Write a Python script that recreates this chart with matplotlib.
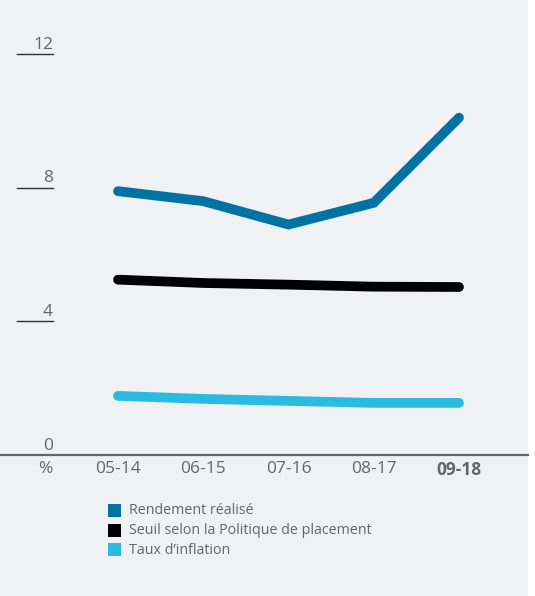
import matplotlib
matplotlib.use("Agg")
import matplotlib.pyplot as plt
from matplotlib.patches import Rectangle

periods = ["05-14", "06-15", "07-16", "08-17", "09-18"]
rendement = [7.9, 7.6, 6.9, 7.55, 10.1]
seuil = [5.25, 5.15, 5.1, 5.04, 5.03]
inflation = [1.77, 1.68, 1.62, 1.56, 1.56]
yticks = [0, 4, 8, 12]
series_labels = ["Rendement réalisé", "Seuil selon la Politique de placement", "Taux d\u2019inflation"]
series_colors = ["#0073a3", "#000000", "#2abbe3"]

W, H = 535, 596
bg = "#f0f1f3"
txt = "#666666"
plt.rcParams['font.family'] = ['Open Sans', 'DejaVu Sans']

fig = plt.figure(figsize=(W/100, H/100), dpi=100)
fig.patch.set_facecolor("white")
fig.add_artist(Rectangle((0, 0), 528/W, 1, transform=fig.transFigure, facecolor=bg, edgecolor="none", zorder=-10))

ax = fig.add_axes([0, (H-455)/H, 528/W, 455/H])
ax.set_facecolor("none")
xs = list(range(len(periods)))
for vals, c in zip([rendement, seuil, inflation], series_colors):
    ax.plot(xs, vals, color=c, lw=7, solid_capstyle="round", solid_joinstyle="miter")

ax.set_xlim(-118/85.25, (528-118)/85.25)
ax.set_ylim(0, 455/33.4)
for s in ["top", "left", "right"]:
    ax.spines[s].set_visible(False)
ax.spines["bottom"].set_color("#666666")
ax.spines["bottom"].set_linewidth(1.6)
ax.set_yticks([])
ax.set_xticks(xs)
ax.set_xticklabels(periods)
ax.tick_params(axis="x", length=0, pad=4, labelsize=12.5, labelcolor=txt)
for lab in ax.get_xticklabels():
    if lab.get_text() == periods[-1]:
        lab.set_fontweight("bold")

# "%" unit label
ax.annotate("%", xy=(45/528, 0), xycoords=("axes fraction", "data"), xytext=(0, -4),
            textcoords="offset points", ha="center", va="top", fontsize=12.5, color=txt)

for t in yticks:
    if t > 0:
        ax.axhline(t, xmin=17/528, xmax=53/528, color="#333333", lw=1)
    ax.annotate(str(t), xy=(53/528, t), xycoords=("axes fraction", "data"), xytext=(0, 1),
                textcoords="offset points", ha="right", va="bottom", fontsize=12.5, color=txt)

# legend
for i, (lab, c) in enumerate(zip(series_labels, series_colors)):
    yc = 511 + i*19.5
    fig.add_artist(Rectangle((108/W, 1-(yc+6)/H), 13/W, 13/H, transform=fig.transFigure,
                             facecolor=c, edgecolor="none"))
    fig.text(129/W, 1-yc/H, lab, ha="left", va="center", fontsize=10.3, color=txt)

fig.savefig("out.png", dpi=100, facecolor=fig.get_facecolor())
